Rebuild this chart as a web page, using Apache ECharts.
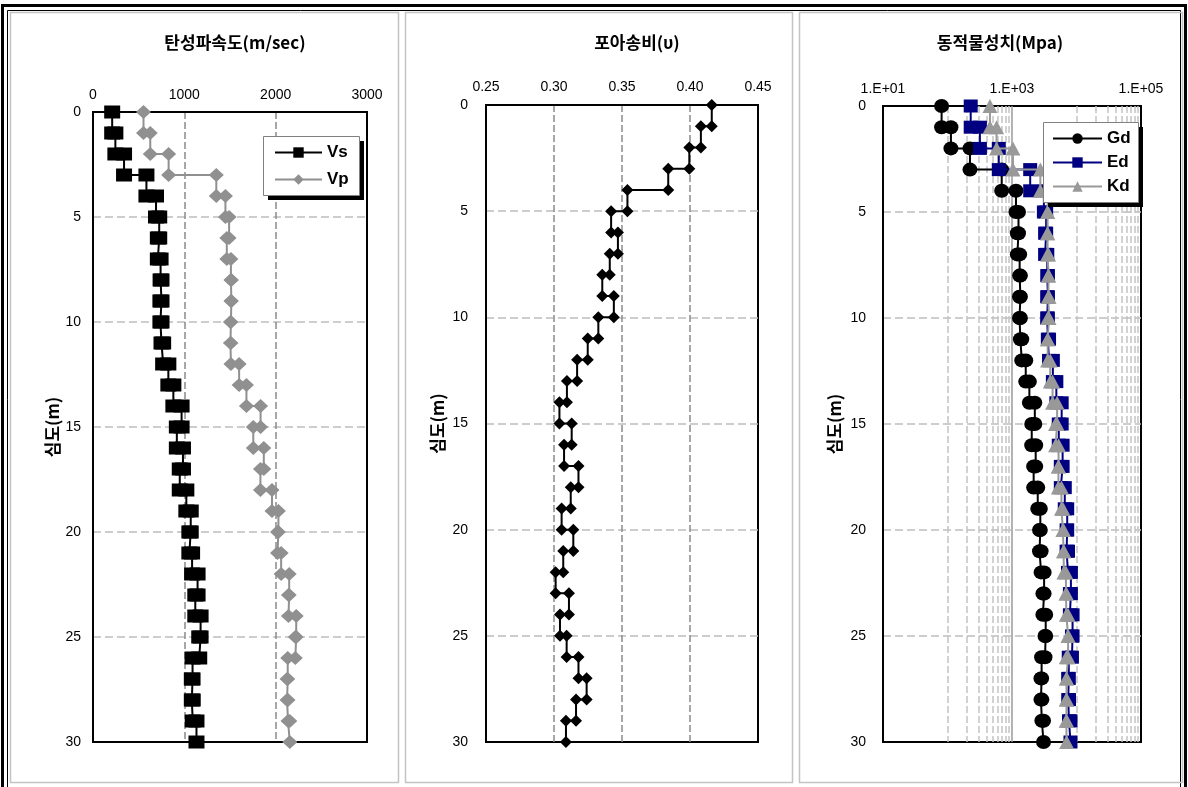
<!DOCTYPE html>
<html>
<head>
<meta charset="utf-8">
<script src="https://cdn.jsdelivr.net/npm/echarts@6/dist/echarts.min.js"></script>
<style>
html,body{margin:0;padding:0;background:#fff;}
#chart{width:1188px;height:787px;}
</style>
</head>
<body>
<div id="chart"></div>
<script>
// ---- data (layer values, one per 1 m layer from 0 to 30 m) ----
const depthBounds = [0,1,2,3,4,5,6,7,8,9,10,11,12,13,14,15,16,17,18,19,20,21,22,23,24,25,26,27,28,29,30];
const vsValues = [210,245,340,585,690,725,710,740,750,738,750,768,825,880,970,918,985,950,1022,1070,1055,1085,1145,1120,1178,1163,1090,1082,1092,1133];
const vpValues = [553,627,828,1350,1450,1490,1465,1510,1515,1510,1505,1510,1600,1680,1835,1755,1870,1833,1960,2030,2020,2060,2148,2140,2225,2215,2132,2125,2135,2155];
const poissonValues = [0.416,0.408,0.3995,0.384,0.354,0.342,0.347,0.341,0.3355,0.344,0.3326,0.3248,0.317,0.3095,0.304,0.313,0.3074,0.318,0.3123,0.3056,0.3142,0.3068,0.3012,0.311,0.3044,0.3093,0.318,0.324,0.3162,0.3088];
const gdValues = [81,113,223,692,1153,1261,1210,1314,1350,1307,1350,1416,1633,1859,2258,2023,2329,2166,2507,2748,2671,2825,3146,3011,3330,3246,2878,2810,2904,3081];
const edValues = [229,318,624,1915,3122,3385,3260,3524,3606,3513,3598,3752,4301,4869,5889,5312,6090,5710,6580,7176,7020,7383,8187,7895,8687,8500,7586,7441,7645,8065];
const kdValues = [455,576,1035,2752,3564,3571,3551,3694,3653,3753,3582,3569,3917,4260,5008,4734,5270,5229,5843,6152,6297,6369,6864,6962,7402,7429,6947,7046,6932,7030];
const logMinorGrid = [100,200,300,400,500,600,700,800,900,10000,20000,30000,40000,50000,60000,70000,80000,90000];
const logMajorGrid = [1000];
const titles = ['탄성파속도(m/sec)','포아송비(υ)','동적물성치(Mpa)'];
const depthName = '심도(m)';

// step profile: each layer value drawn at its top and bottom depth
function steps(vals){
  const pts = [];
  vals.forEach((v,i)=>{ pts.push([v, depthBounds[i]]); pts.push([v, depthBounds[i+1]]); });
  return pts;
}

const chart = echarts.init(document.getElementById('chart'), null, {renderer:'canvas'});
const numFont = 'Liberation Sans';
const krFont = 'Noto Sans CJK KR';
const hGrid = {show:true, showMinLine:false, showMaxLine:false, lineStyle:{color:'#bdbdbd', type:[8,4], width:1.5}};
const vGrid = {show:true, showMinLine:false, showMaxLine:false, lineStyle:{color:'#8a8a8a', type:[7,3], width:1.5}};

function yAx(gi, labelMargin, nameGap){
  return {type:'value', gridIndex:gi, inverse:true, min:0, max:30, interval:5,
    axisLine:{show:true, lineStyle:{color:'#000', width:2}}, axisTick:{show:false},
    axisLabel:{color:'#000', fontFamily:numFont, fontSize:14, margin:labelMargin},
    splitLine:hGrid,
    name:depthName, nameLocation:'middle', nameRotate:90, nameGap:nameGap,
    nameTextStyle:{color:'#000', fontFamily:krFont, fontSize:17, fontWeight:'bold'}};
}

const option = {
  animation:false,
  backgroundColor:'#fff',
  graphic:[
    {type:'rect', z:0, shape:{x:2.5,y:5.5,width:1183,height:790}, style:{fill:'none', stroke:'#000', lineWidth:3}},
    {type:'rect', z:0, shape:{x:7.5,y:10.5,width:1173,height:790}, style:{fill:'none', stroke:'#000', lineWidth:1}},
    {type:'rect', z:0, shape:{x:10.5,y:12.5,width:388,height:770}, style:{fill:'none', stroke:'#c4c4c4', lineWidth:1.5}},
    {type:'rect', z:0, shape:{x:405.5,y:12.5,width:387,height:770}, style:{fill:'none', stroke:'#c4c4c4', lineWidth:1.5}},
    {type:'rect', z:0, shape:{x:799.5,y:12.5,width:383,height:770}, style:{fill:'none', stroke:'#c4c4c4', lineWidth:1.5}},
    // legend boxes with hard shadow
    {type:'rect', z:20, shape:{x:268,y:141,width:96,height:59}, style:{fill:'#000'}},
    {type:'rect', z:21, shape:{x:263.5,y:136.5,width:96,height:59}, style:{fill:'#fff', stroke:'#808080', lineWidth:1}},
    {type:'rect', z:20, shape:{x:1048,y:127,width:95,height:80}, style:{fill:'#000'}},
    {type:'rect', z:21, shape:{x:1043.5,y:122.5,width:95,height:80}, style:{fill:'#fff', stroke:'#808080', lineWidth:1}}
  ],
  title:[
    {text:titles[0], left:230, top:29, textAlign:'center', textStyle:{fontFamily:krFont, fontSize:17, fontWeight:'bold', color:'#000'}},
    {text:titles[1], left:632, top:29, textAlign:'center', textStyle:{fontFamily:krFont, fontSize:17, fontWeight:'bold', color:'#000'}},
    {text:titles[2], left:995, top:29, textAlign:'center', textStyle:{fontFamily:krFont, fontSize:17, fontWeight:'bold', color:'#000'}}
  ],
  legend:[
    {data:['Vs','Vp'], orient:'vertical', left:272, top:142, itemWidth:47, itemHeight:13, itemGap:10, z:30, padding:[2,2],
     textStyle:{fontFamily:numFont, fontSize:17, fontWeight:'bold', color:'#000'}},
    {data:['Gd','Ed','Kd'], orient:'vertical', left:1050, top:128, itemWidth:49, itemHeight:13, itemGap:7, z:30, padding:[2,2],
     textStyle:{fontFamily:numFont, fontSize:17, fontWeight:'bold', color:'#000'}}
  ],
  grid:[
    {left:93, top:112, width:274, height:630, show:true, borderColor:'#000', borderWidth:2, backgroundColor:'transparent'},
    {left:486, top:105, width:272, height:637, show:true, borderColor:'#000', borderWidth:2, backgroundColor:'transparent'},
    {left:883, top:106, width:258, height:636, show:true, borderColor:'#000', borderWidth:2, backgroundColor:'transparent'}
  ],
  xAxis:[
    {type:'value', gridIndex:0, position:'top', min:0, max:3000, interval:1000,
     axisLine:{show:true, lineStyle:{color:'#000', width:2}}, axisTick:{show:false},
     axisLabel:{color:'#000', fontFamily:numFont, fontSize:14, margin:10, formatter:v=>String(v)}, splitLine:vGrid},
    {type:'value', gridIndex:1, position:'top', min:0.25, max:0.45, interval:0.05,
     axisLine:{show:true, lineStyle:{color:'#000', width:2}}, axisTick:{show:false},
     axisLabel:{color:'#000', fontFamily:numFont, fontSize:14, margin:11, formatter:v=>v.toFixed(2)}, splitLine:vGrid},
    {type:'log', gridIndex:2, position:'top', min:10, max:100000, logBase:10,
     axisLine:{show:true, lineStyle:{color:'#000', width:2}}, axisTick:{show:false},
     axisLabel:{color:'#000', fontFamily:numFont, fontSize:14, margin:10, showMinLabel:true, showMaxLabel:true,
       formatter:v=>{const e=Math.round(Math.log10(v)); return (e%2===1)?('1.E+'+String(e).padStart(2,'0')):'';}},
     splitLine:{show:false}}
  ],
  yAxis:[ yAx(0,12,30), yAx(1,18,40), yAx(2,17,40) ],
  series:[
    {name:'Vs', type:'line', xAxisIndex:0, yAxisIndex:0, data:steps(vsValues), symbol:'rect', symbolSize:[16,13],
     itemStyle:{color:'#000'}, lineStyle:{color:'#000', width:2}, z:5},
    {name:'Vp', type:'line', xAxisIndex:0, yAxisIndex:0, data:steps(vpValues), symbol:'diamond', symbolSize:[15,14],
     itemStyle:{color:'#909090'}, lineStyle:{color:'#909090', width:2}, z:4},
    {name:'Poisson', type:'line', xAxisIndex:1, yAxisIndex:1, data:steps(poissonValues), symbol:'diamond', symbolSize:[12,12],
     itemStyle:{color:'#000'}, lineStyle:{color:'#000', width:2}, z:5},
    {name:'grid3', type:'line', xAxisIndex:2, yAxisIndex:2, data:[], silent:true, z:1,
     markLine:{silent:true, symbol:'none', label:{show:false}, animation:false,
       data:logMinorGrid.map(v=>({xAxis:v, lineStyle:{color:'#c4c4c4', type:[7,3], width:1.5}}))
         .concat(logMajorGrid.map(v=>({xAxis:v, lineStyle:{color:'#9a9a9a', type:'solid', width:1.5}})))}},
    {name:'Gd', type:'line', xAxisIndex:2, yAxisIndex:2, data:steps(gdValues), symbol:'circle', symbolSize:[15,14],
     itemStyle:{color:'#000'}, lineStyle:{color:'#000', width:2}, z:5},
    {name:'Ed', type:'line', xAxisIndex:2, yAxisIndex:2, data:steps(edValues), symbol:'rect', symbolSize:[14,13],
     itemStyle:{color:'#000080'}, lineStyle:{color:'#000080', width:2}, z:6},
    {name:'Kd', type:'line', xAxisIndex:2, yAxisIndex:2, data:steps(kdValues), symbol:'triangle', symbolSize:[15,14],
     itemStyle:{color:'#999999'}, lineStyle:{color:'#999999', width:2}, z:7}
  ]
};
chart.setOption(option);
</script>
</body>
</html>
